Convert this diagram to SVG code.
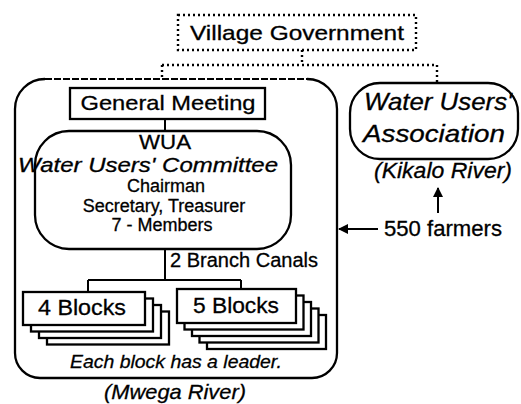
<svg xmlns="http://www.w3.org/2000/svg" width="521" height="404" viewBox="0 0 521 404">
<style>
text{font-family:"Liberation Sans",Arial,sans-serif;fill:#000;stroke:#000;stroke-width:0.3;text-anchor:middle}
.it{font-style:italic}
.box{fill:none;stroke:#000;stroke-width:2.3}
.wbox{fill:#fff;stroke:#000;stroke-width:2.3}
.dot{fill:none;stroke:#000;stroke-width:2.4;stroke-dasharray:2 3}
.ln{fill:none;stroke:#000;stroke-width:2}
</style>
<defs>
<marker id="ah" viewBox="0 0 10 10" refX="9" refY="5" markerWidth="10" markerHeight="10" markerUnits="userSpaceOnUse" orient="auto">
<path d="M0,0 L10,5 L0,10 Z" fill="#000"/>
</marker>
</defs>
<rect width="521" height="404" fill="#fff"/>

<g id="connectors">
<path class="dot" d="M302,50 V65 M162,65 H437 M162,65 V79 M437,65 V83"/>
<path class="ln" d="M165,119 V131"/>
<path class="ln" d="M165,249 V280 M88,280 H241 M88,280 V292 M241,280 V289"/>
<path class="ln" d="M438,213 V188" marker-end="url(#ah)"/>
<path class="ln" stroke-width="1.6" d="M378,229 H339" marker-end="url(#ah)"/>
</g>

<g id="village-government">
<rect class="dot" x="178" y="15" width="238" height="35"/>
<text x="297" y="40" font-size="21" textLength="214" lengthAdjust="spacingAndGlyphs">Village Government</text>
</g>

<g id="mwega-wua">
<path class="ln" stroke-width="1.6" stroke-dasharray="7 2" d="M45,79 H307"/>
<path class="box" d="M307,79 A30,30 0 0 1 337,109 V353 A25,25 0 0 1 312,378 H40 A25,25 0 0 1 15,353 V109 A30,30 0 0 1 45,79"/>
<text class="it" x="175" y="399" font-size="21" textLength="142" lengthAdjust="spacingAndGlyphs">(Mwega River)</text>
</g>

<g id="general-meeting">
<rect class="box" x="70" y="88" width="195" height="31"/>
<text x="168" y="110" font-size="21" textLength="175" lengthAdjust="spacingAndGlyphs">General Meeting</text>
</g>

<g id="wua-committee">
<rect class="box" x="35" y="131" width="256" height="118" rx="34"/>
<text x="165" y="149" font-size="21" textLength="52" lengthAdjust="spacingAndGlyphs">WUA</text>
<text class="it" x="148" y="172" font-size="20" textLength="260" lengthAdjust="spacingAndGlyphs">Water Users' Committee</text>
<text x="166" y="192" font-size="18">Chairman</text>
<text x="164" y="212" font-size="18">Secretary, Treasurer</text>
<text x="162" y="231" font-size="18">7 - Members</text>
</g>

<g id="branch-canals">
<text x="170" y="267" font-size="20" style="text-anchor:start" textLength="148" lengthAdjust="spacingAndGlyphs">2 Branch Canals</text>
</g>

<g id="blocks-4">
<rect class="wbox" x="47" y="311.5" width="122" height="33"/>
<rect class="wbox" x="39" y="305" width="122" height="33"/>
<rect class="wbox" x="31" y="298.5" width="122" height="33"/>
<rect class="wbox" x="23" y="292" width="122" height="33"/>
<text x="82" y="315" font-size="22" textLength="88" lengthAdjust="spacingAndGlyphs">4 Blocks</text>
</g>

<g id="blocks-5">
<rect class="wbox" x="207" y="315" width="119" height="34"/>
<rect class="wbox" x="199.5" y="308.5" width="119" height="34"/>
<rect class="wbox" x="192" y="302" width="119" height="34"/>
<rect class="wbox" x="184.5" y="295.5" width="119" height="34"/>
<rect class="wbox" x="177" y="289" width="119" height="34"/>
<text x="236" y="313" font-size="22" textLength="86" lengthAdjust="spacingAndGlyphs">5 Blocks</text>
</g>

<g id="block-note">
<text class="it" x="176" y="368" font-size="19" textLength="212" lengthAdjust="spacingAndGlyphs">Each block has a leader.</text>
</g>

<g id="kikalo-wua">
<rect class="box" x="350" y="83" width="168" height="76" rx="30"/>
<text class="it" x="438" y="110" font-size="24" textLength="148" lengthAdjust="spacingAndGlyphs">Water Users'</text>
<text class="it" x="434" y="142" font-size="24" textLength="142" lengthAdjust="spacingAndGlyphs">Association</text>
<text class="it" x="443" y="178" font-size="22" textLength="138" lengthAdjust="spacingAndGlyphs">(Kikalo River)</text>
</g>

<g id="farmers">
<text x="443" y="236" font-size="22" textLength="118" lengthAdjust="spacingAndGlyphs">550 farmers</text>
</g>
</svg>
